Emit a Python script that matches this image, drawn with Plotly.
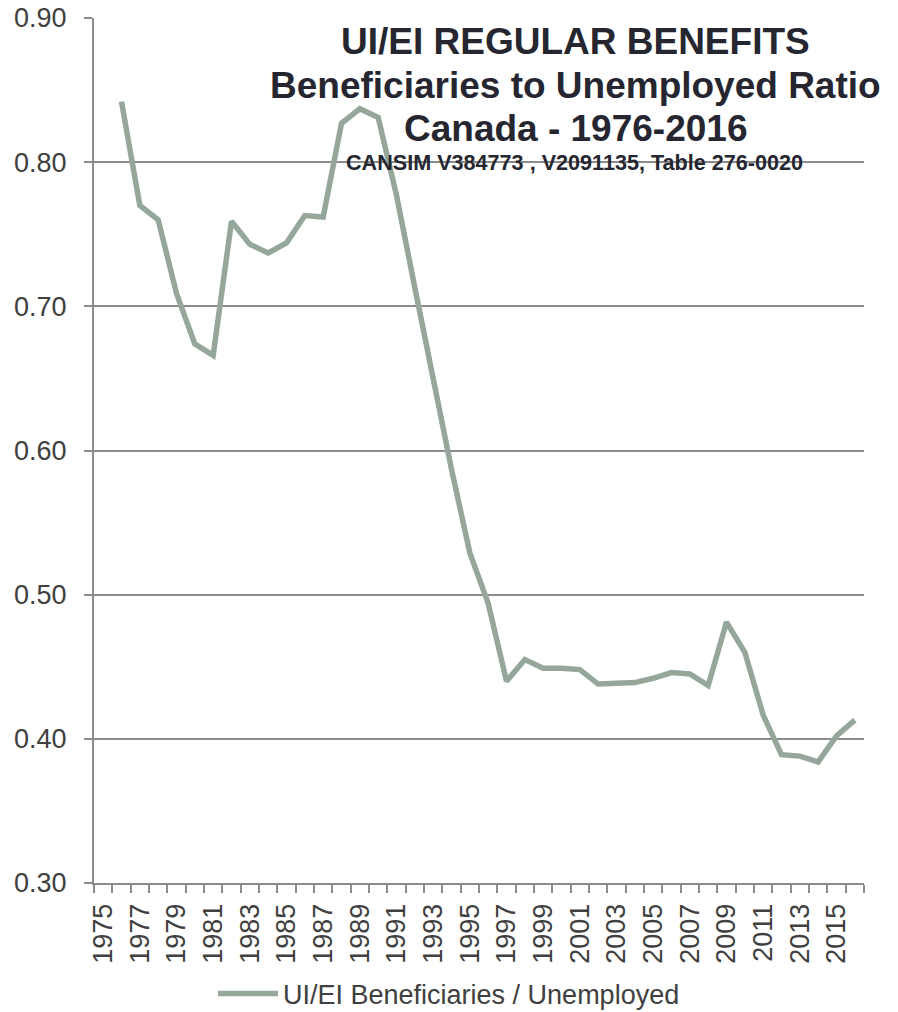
import plotly.graph_objects as go

years = list(range(1976, 2017))
ratio = [0.842, 0.770, 0.760, 0.709, 0.674, 0.666, 0.759, 0.743, 0.737, 0.744,
         0.763, 0.762, 0.827, 0.837, 0.831, 0.777, 0.713, 0.649, 0.587, 0.529,
         0.494, 0.440, 0.455, 0.449, 0.449, 0.448, 0.438, 0.4385, 0.439, 0.442,
         0.446, 0.445, 0.437, 0.481, 0.460, 0.4165, 0.389, 0.388, 0.384, 0.402,
         0.413]
tick_years = list(range(1975, 2016, 2))
y_ticks = [0.30, 0.40, 0.50, 0.60, 0.70, 0.80, 0.90]
series_name = "UI/EI Beneficiaries / Unemployed"
title_lines = ["UI/EI REGULAR BENEFITS", "Beneficiaries to Unemployed Ratio", "Canada - 1976-2016"]
subtitle = "CANSIM V384773 , V2091135, Table 276-0020"

LINE = "#95a69a"
GRID = "#8c8c8c"
TXT = "#404040"
FONT = "Liberation Sans, Arial, sans-serif"

fig = go.Figure()
fig.add_trace(go.Scatter(x=years, y=ratio, mode="lines", name=series_name,
                         line=dict(color=LINE, width=5.5)))

fig.update_layout(
    width=898, height=1012,
    margin=dict(l=94, r=34, t=18, b=129, autoexpand=False),
    paper_bgcolor="white", plot_bgcolor="white",
    font=dict(family=FONT, size=27, color=TXT),
    showlegend=True,
    legend=dict(orientation="h", xref="container", yref="paper",
                x=0.5, xanchor="center", y=(883 - 994) / 865, yanchor="middle",
                font=dict(size=27, color=TXT), bgcolor="rgba(0,0,0,0)",
                itemwidth=60),
    xaxis=dict(range=[1974.5, 2016.5], tickmode="array", tickvals=tick_years,
               ticktext=[str(y) for y in tick_years], tickangle=-90,
               ticks="", showgrid=False, zeroline=False, automargin=False,
               showline=True, linecolor=GRID, linewidth=2,
               ticklabelstandoff=8,
               minor=dict(ticks="outside", tick0=1974.5, dtick=1, ticklen=8,
                          tickcolor=GRID, tickwidth=2, showgrid=False)),
    yaxis=dict(range=[0.30, 0.90], tickmode="array", tickvals=y_ticks,
               ticktext=[f"{v:.2f}" for v in y_ticks], automargin=False,
               ticks="outside", ticklen=8, tickcolor=GRID, tickwidth=2,
               showgrid=True, gridcolor=GRID, gridwidth=2, zeroline=False,
               showline=True, linecolor=GRID, linewidth=2,
               ticklabelstandoff=12),
)

title_y = [42, 85, 128]
for txt, yy in zip(title_lines, title_y):
    fig.add_annotation(text=f"<b>{txt}</b>", xref="paper", yref="paper",
                       x=(575 - 94) / 770, y=(883 - yy) / 865,
                       showarrow=False, xanchor="center", yanchor="middle",
                       font=dict(family=FONT, size=37, color="#262630"))
fig.add_annotation(text=f"<b>{subtitle}</b>", xref="paper", yref="paper",
                   x=(574 - 94) / 770, y=(883 - 163) / 865,
                   showarrow=False, xanchor="center", yanchor="middle",
                   font=dict(family=FONT, size=21.6, color="#262630"))

fig.write_html("out.html")
